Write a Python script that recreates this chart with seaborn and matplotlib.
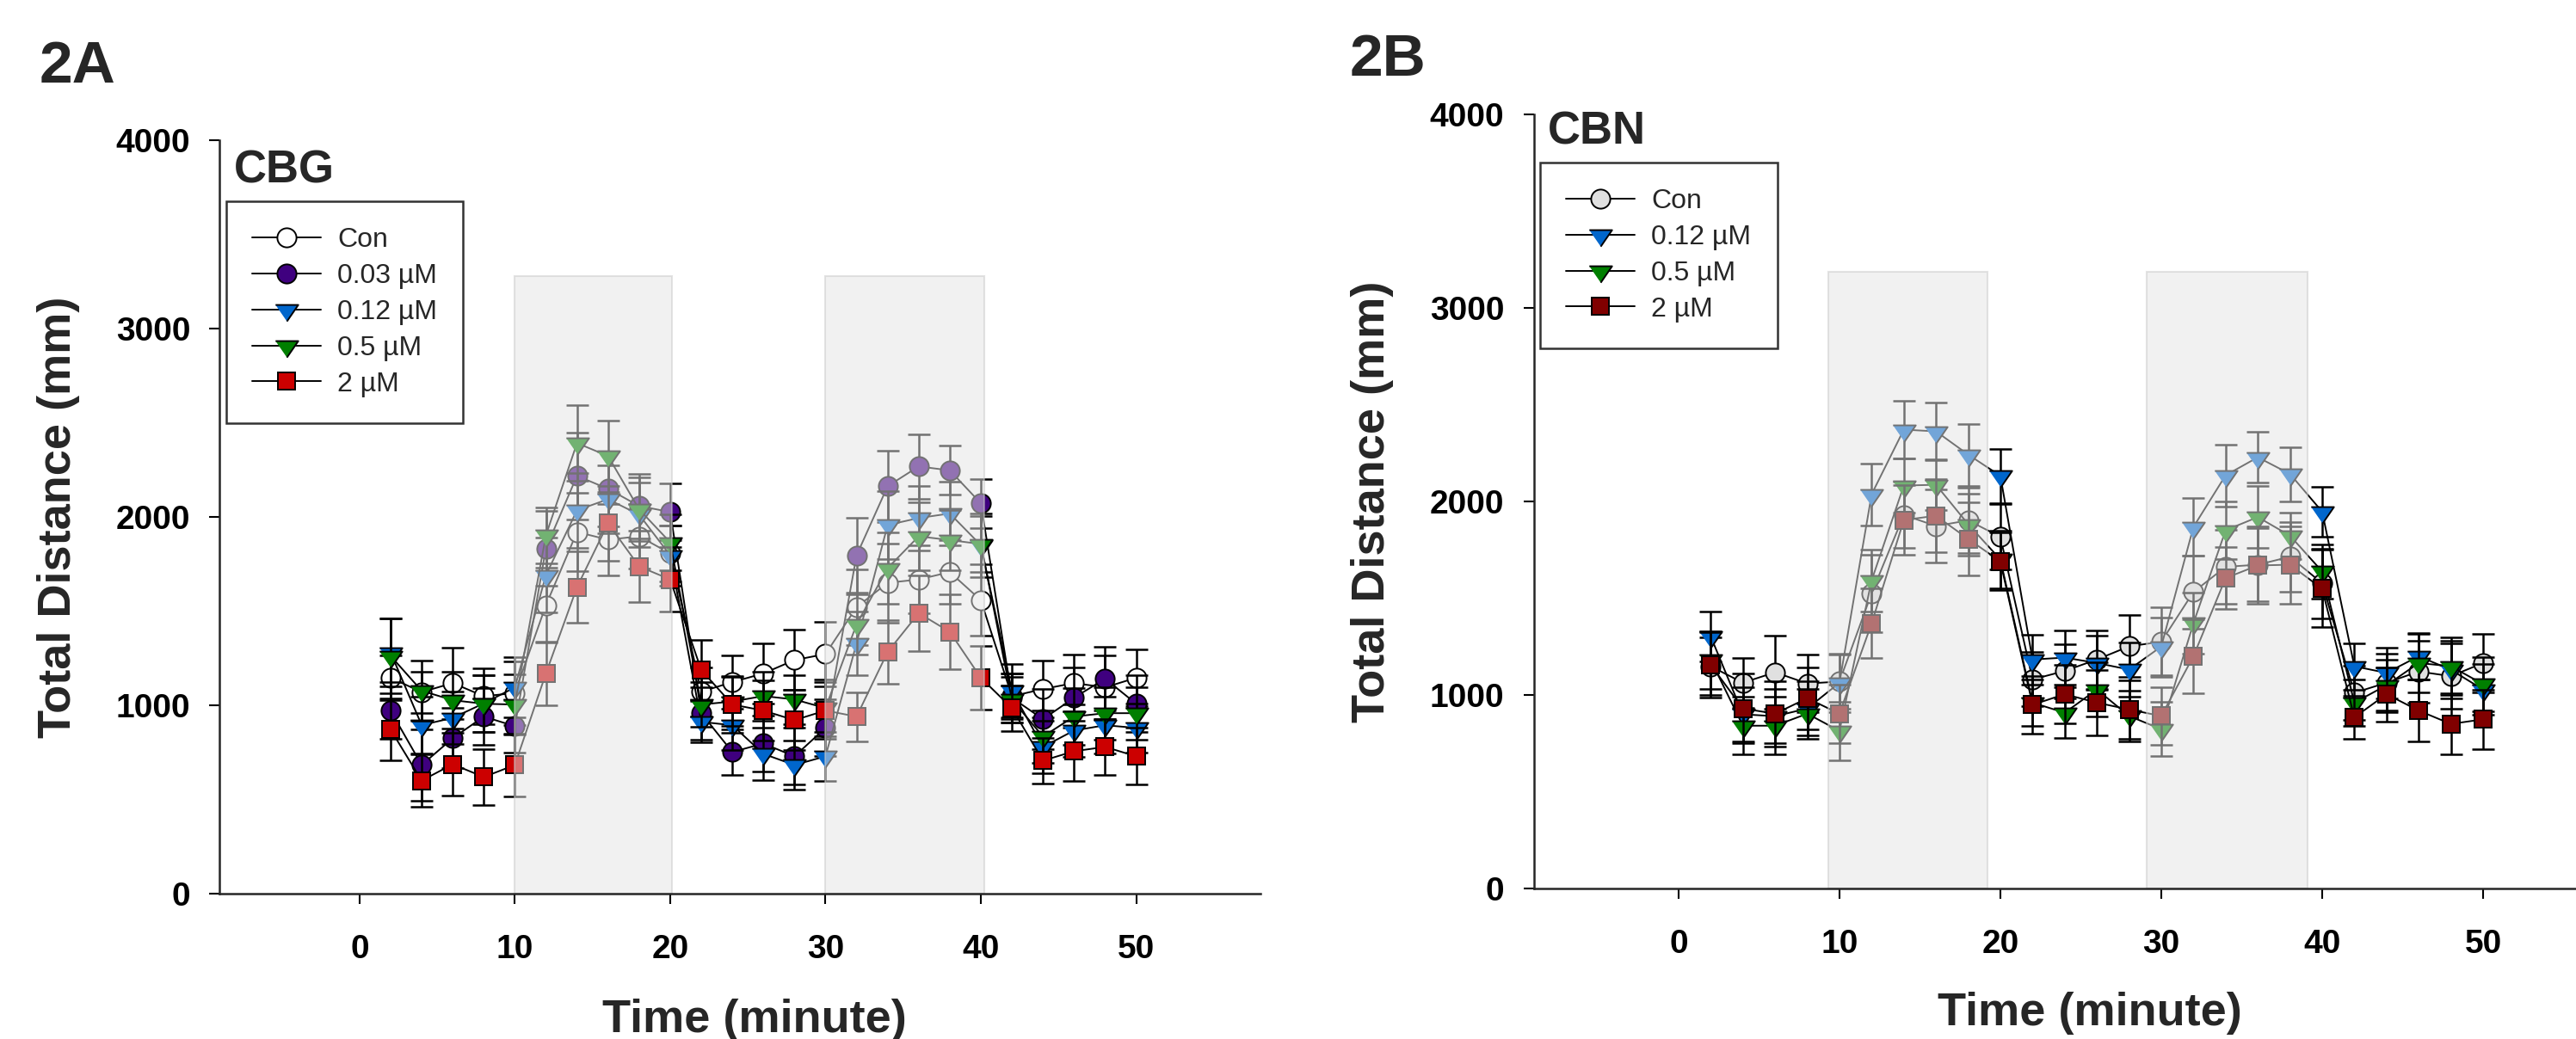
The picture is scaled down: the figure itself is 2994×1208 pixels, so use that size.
import matplotlib
matplotlib.use("Agg")
import matplotlib.pyplot as plt
from matplotlib.lines import Line2D
import seaborn as sns
import pandas as pd

# time points (minute)
time = [2, 4, 6, 8, 10, 12, 14, 16, 18, 20, 22, 24, 26, 28, 30, 32, 34, 36, 38, 40, 42, 44, 46, 48, 50]

# panel A: CBG
cbg_con = [1146, 1070, 1118, 1048, 1065, 1531, 1920, 1879, 1897, 1806, 1072, 1123, 1169, 1240, 1272, 1521, 1650, 1668, 1707, 1558, 1048, 1086, 1118, 1095, 1146]
cbg_003 = [971, 683, 825, 940, 889, 1833, 2218, 2149, 2058, 2026, 958, 752, 797, 729, 880, 1796, 2163, 2268, 2247, 2072, 1040, 926, 1040, 1141, 1008]
cbg_012 = [1280, 895, 933, 1010, 1095, 1691, 2035, 2094, 2012, 1796, 912, 894, 742, 683, 729, 1329, 1957, 1994, 2018, 1850, 1077, 779, 866, 894, 880]
cbg_05 = [1262, 1077, 1027, 1008, 1004, 1902, 2392, 2323, 2040, 1865, 1004, 1020, 1049, 1031, 985, 1430, 1728, 1897, 1877, 1856, 1030, 834, 940, 958, 958]
cbg_2 = [871, 600, 687, 619, 683, 1169, 1627, 1966, 1737, 1668, 1187, 1004, 972, 921, 972, 940, 1283, 1489, 1390, 1146, 985, 706, 756, 779, 729]

cbg_con_err = [120, 110, 190, 150, 170, 200, 210, 190, 170, 150, 130, 140, 160, 160, 170, 200, 210, 180, 170, 190, 120, 150, 150, 170, 150]
cbg_003_err = [150, 190, 160, 150, 140, 200, 230, 200, 170, 150, 140, 120, 150, 150, 150, 200, 190, 170, 130, 130, 130, 160, 160, 170, 150]
cbg_012_err = [180, 150, 140, 150, 160, 200, 200, 180, 170, 160, 110, 130, 140, 130, 130, 170, 180, 170, 170, 170, 140, 140, 140, 150, 130]
cbg_05_err = [200, 160, 150, 150, 160, 150, 200, 190, 170, 150, 120, 130, 130, 130, 150, 160, 190, 180, 160, 150, 120, 140, 150, 140, 140]
cbg_2_err = [165, 140, 165, 147, 165, 170, 190, 200, 190, 170, 160, 150, 160, 160, 150, 130, 170, 200, 200, 170, 120, 120, 160, 150, 150]

# panel B: CBN
cbn_con = [1148, 1063, 1117, 1059, 1069, 1526, 1930, 1873, 1902, 1817, 1080, 1124, 1183, 1251, 1275, 1532, 1662, 1673, 1714, 1577, 1011, 1063, 1121, 1097, 1165]
cbn_012 = [1302, 900, 890, 930, 1063, 2037, 2371, 2362, 2242, 2132, 1183, 1193, 1165, 1131, 1250, 1868, 2135, 2228, 2142, 1947, 1148, 1114, 1200, 1130, 1028]
cbn_05 = [1180, 841, 841, 903, 814, 1592, 2082, 2086, 1882, 1700, 960, 908, 1028, 891, 823, 1371, 1851, 1919, 1823, 1638, 960, 1050, 1165, 1148, 1056]
cbn_2 = [1155, 930, 903, 983, 903, 1370, 1904, 1926, 1806, 1690, 949, 1004, 960, 925, 891, 1200, 1604, 1669, 1673, 1549, 884, 1004, 919, 850, 874]

cbn_con_err = [150, 130, 190, 150, 140, 200, 170, 190, 170, 170, 140, 140, 150, 160, 180, 190, 190, 190, 180, 180, 140, 150, 160, 170, 150]
cbn_012_err = [130, 140, 140, 140, 150, 160, 150, 150, 160, 140, 130, 140, 140, 140, 150, 150, 160, 130, 140, 130, 120, 130, 120, 150, 130]
cbn_05_err = [150, 150, 150, 130, 150, 160, 140, 130, 160, 150, 120, 130, 140, 130, 140, 160, 150, 160, 120, 140, 120, 130, 150, 150, 140]
cbn_2_err = [170, 180, 170, 160, 150, 180, 180, 190, 190, 150, 150, 150, 170, 150, 150, 190, 160, 200, 200, 200, 110, 140, 160, 158, 154]

labels_a = ["Con", "0.03 µM", "0.12 µM", "0.5 µM", "2 µM"]
labels_b = ["Con", "0.12 µM", "0.5 µM", "2 µM"]

sns.set_style("ticks")
plt.rcParams['font.family'] = ['Liberation Sans', 'DejaVu Sans']
plt.rcParams['font.weight'] = 'bold'

tri = [(-1, 0.45), (1, 0.45), (0, -1.0)]
# marker, size, face colour
style_a = [("o", 16, "white"), ("o", 16, "#3f007f"), (tri, 19, "#0066cc"), (tri, 19, "#007f00"), ("s", 13.7, "#cc0000")]
style_b = [("o", 16, "#e0e0e0"), (tri, 19, "#0066cc"), (tri, 19, "#007f00"), ("s", 13.7, "#800000")]


def draw_panel(ax, series, errs, labels, styles, xmax, spans, span_top):
    for y, e, lab, (mk, ms, fc) in zip(series, errs, labels, styles):
        df = pd.DataFrame({"time": time, "dist": y})
        ax.errorbar(df["time"], df["dist"], yerr=e, fmt="none", ecolor="black",
                    elinewidth=1.8, capsize=9.7, capthick=1.8)
        sns.lineplot(data=df, x="time", y="dist", ax=ax, color="black", lw=1.4,
                     marker=mk, markersize=ms, markerfacecolor=fc,
                     markeredgecolor="black", markeredgewidth=1.4)
    # shaded periods are laid over the data, washing it out
    for x0, x1 in spans:
        ax.axvspan(x0, x1, ymin=0, ymax=span_top / 4000, facecolor="#e5e5e5",
                   edgecolor="#c8c8c8", lw=1.5, alpha=0.5, zorder=3)
    ax.set_xlim(-9, xmax)
    ax.set_ylim(0, 4000)
    ax.set_xticks([0, 10, 20, 30, 40, 50])
    ax.set_yticks([0, 1000, 2000, 3000, 4000])
    sns.despine(ax=ax)
    for s in ["left", "bottom"]:
        ax.spines[s].set_linewidth(1.8)
        ax.spines[s].set_zorder(4)
    ax.tick_params(direction="out", length=8.6, width=1.5, labelsize=28, colors="black")
    ax.tick_params(axis="x", pad=25)
    ax.tick_params(axis="y", pad=16)
    ax.set_xlabel("Time (minute)", fontsize=39, fontweight="bold")
    ax.set_ylabel("Total Distance (mm)", fontsize=39, fontweight="bold")
    handles = [Line2D([], [], color="black", lw=1.4, marker=mk, markersize=ms,
                      markerfacecolor=fc, markeredgecolor="black", markeredgewidth=1.4)
               for mk, ms, fc in styles]
    return handles


fig = plt.figure(figsize=(29.94, 12.08), dpi=100)
ax_a = fig.add_axes([0.0853, 0.1399, 0.404, 0.7252])
ax_b = fig.add_axes([0.5954, 0.1449, 0.406, 0.745])

h_a = draw_panel(ax_a, [cbg_con, cbg_003, cbg_012, cbg_05, cbg_2],
                 [cbg_con_err, cbg_003_err, cbg_012_err, cbg_05_err, cbg_2_err],
                 labels_a, style_a, 58, [(10, 20.1), (29.95, 40.2)], 3277)
h_b = draw_panel(ax_b, [cbn_con, cbn_012, cbn_05, cbn_2],
                 [cbn_con_err, cbn_012_err, cbn_05_err, cbn_2_err],
                 labels_b, style_b, 56, [(9.3, 19.2), (29.1, 39.1)], 3188)

ax_a.xaxis.set_label_coords(0.514, -0.139)
ax_a.yaxis.set_label_coords(-0.134, 0.5)
ax_b.xaxis.set_label_coords(0.532, -0.133)
ax_b.yaxis.set_label_coords(-0.134, 0.5)

for ax, h, labs, top in [(ax_a, h_a, labels_a, 0.919), (ax_b, h_b, labels_b, 0.938)]:
    leg = ax.legend(h, labs, loc="upper left", bbox_to_anchor=(0.006, top),
                    borderaxespad=0, frameon=True, fancybox=False, shadow=False,
                    prop={"size": 23, "weight": "normal"}, handlelength=2.5,
                    handletextpad=0.6, borderpad=0.95, labelspacing=0.37)
    leg.get_frame().set_edgecolor("black")
    leg.get_frame().set_linewidth(1.8)
    leg.set_zorder(6)

ax_a.text(0.0136, 0.944, "CBG", transform=ax_a.transAxes, fontsize=38,
          fontweight="bold", ha="left", va="baseline")
ax_b.text(0.0135, 0.962, "CBN", transform=ax_b.transAxes, fontsize=38,
          fontweight="bold", ha="left", va="baseline")

fig.text(0.0154, 0.9205, "2A", fontsize=50, fontweight="bold", ha="left", va="baseline")
fig.text(0.524, 0.927, "2B", fontsize=50, fontweight="bold", ha="left", va="baseline")

fig.savefig("out.png", dpi=100)
